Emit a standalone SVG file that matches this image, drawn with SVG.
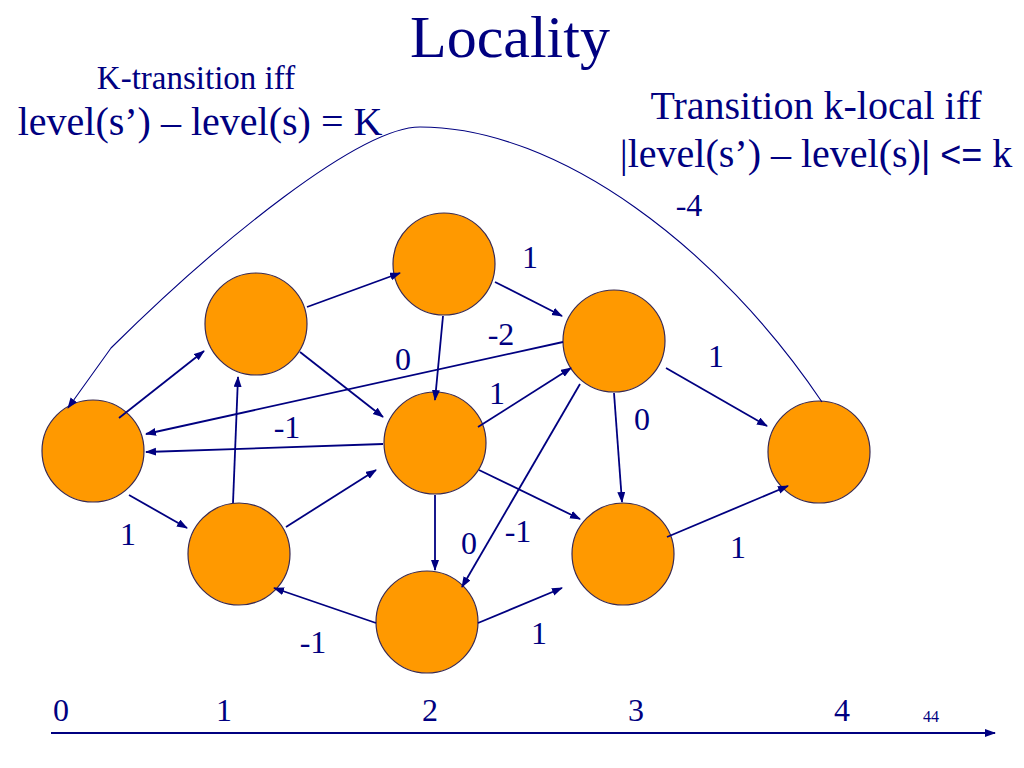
<svg xmlns="http://www.w3.org/2000/svg" width="1024" height="768" viewBox="0 0 1024 768">
<defs>
<marker id="ah" markerUnits="userSpaceOnUse" markerWidth="11" markerHeight="9" refX="10" refY="4" orient="auto">
<path d="M0,0 L11,4 L0,8 z" fill="#000080"/>
</marker>
</defs>
<rect width="1024" height="768" fill="#ffffff"/>
<g id="texts" fill="#000080">
<text x="510" y="57" font-size="60" font-family="Liberation Serif" text-anchor="middle">Locality</text>
<text x="196" y="89" font-size="33" font-family="Liberation Serif" text-anchor="middle">K-transition iff</text>
<text x="200" y="135" font-size="40" font-family="Liberation Serif" text-anchor="middle">level(s&#8217;) &#8211; level(s) = K</text>
<text x="816" y="119" font-size="40" font-family="Liberation Serif" text-anchor="middle">Transition k-local iff</text>
<text x="816" y="167" font-size="40" font-family="Liberation Serif" text-anchor="middle">|level(s&#8217;) &#8211; level(s)<tspan font-size="36" font-family="Liberation Sans">| &lt;=</tspan> k</text>
</g>
<g id="nodes" fill="#FF9900" stroke="#3a2a50" stroke-width="1.2">
<g id="node-A"><circle cx="93" cy="451" r="51"/></g>
<g id="node-B"><circle cx="256" cy="324" r="51"/></g>
<g id="node-C"><circle cx="444" cy="264" r="51"/></g>
<g id="node-D"><circle cx="614" cy="341" r="51"/></g>
<g id="node-E"><circle cx="435" cy="443" r="51"/></g>
<g id="node-F"><circle cx="239" cy="554" r="51"/></g>
<g id="node-G"><circle cx="427" cy="622" r="51"/></g>
<g id="node-H"><circle cx="623" cy="554" r="51"/></g>
<g id="node-I"><circle cx="819" cy="452" r="51"/></g>
</g>
<g id="connectors" stroke="#000080" stroke-width="1.8" fill="none" marker-end="url(#ah)">
<path stroke-width="1.1" d="M822,402 C720,250 560,127 420,127 C360,127 220,240 111,348 L68,408"/>
<line x1="119" y1="418" x2="204" y2="351"/>
<line x1="307" y1="307" x2="400" y2="273"/>
<line x1="443" y1="316" x2="435" y2="400"/>
<line x1="300" y1="352" x2="383" y2="417"/>
<line x1="563" y1="342" x2="146" y2="434"/>
<line x1="383" y1="444" x2="146" y2="452"/>
<line x1="233" y1="503" x2="238" y2="377"/>
<line x1="495" y1="282" x2="562" y2="316"/>
<line x1="478" y1="427" x2="571" y2="368"/>
<line x1="666" y1="368" x2="767" y2="426"/>
<line x1="614" y1="393" x2="622" y2="502"/>
<line x1="580" y1="384" x2="462" y2="587"/>
<line x1="479" y1="470" x2="580" y2="519"/>
<line x1="435" y1="495" x2="435" y2="570"/>
<line x1="129" y1="495" x2="187" y2="528"/>
<line x1="286" y1="527" x2="376" y2="470"/>
<line x1="376" y1="623" x2="274" y2="588"/>
<line x1="478" y1="623" x2="562" y2="588"/>
<line x1="667" y1="537" x2="788" y2="486"/>
<line x1="51" y1="733" x2="995" y2="733"/>
</g>
<g id="labels" fill="#000080">
<text x="689" y="216" font-size="32" font-family="Liberation Serif" text-anchor="middle">-4</text>
<text x="530" y="268" font-size="32" font-family="Liberation Serif" text-anchor="middle">1</text>
<text x="501" y="345" font-size="32" font-family="Liberation Serif" text-anchor="middle">-2</text>
<text x="403" y="370" font-size="32" font-family="Liberation Serif" text-anchor="middle">0</text>
<text x="716" y="367" font-size="32" font-family="Liberation Serif" text-anchor="middle">1</text>
<text x="497" y="404" font-size="32" font-family="Liberation Serif" text-anchor="middle">1</text>
<text x="287" y="438" font-size="32" font-family="Liberation Serif" text-anchor="middle">-1</text>
<text x="642" y="430" font-size="32" font-family="Liberation Serif" text-anchor="middle">0</text>
<text x="128" y="545" font-size="32" font-family="Liberation Serif" text-anchor="middle">1</text>
<text x="469" y="554" font-size="32" font-family="Liberation Serif" text-anchor="middle">0</text>
<text x="518" y="542" font-size="32" font-family="Liberation Serif" text-anchor="middle">-1</text>
<text x="738" y="558" font-size="32" font-family="Liberation Serif" text-anchor="middle">1</text>
<text x="539" y="644" font-size="32" font-family="Liberation Serif" text-anchor="middle">1</text>
<text x="313" y="653" font-size="32" font-family="Liberation Serif" text-anchor="middle">-1</text>
<text x="61" y="721" font-size="32" font-family="Liberation Serif" text-anchor="middle">0</text>
<text x="224" y="721" font-size="32" font-family="Liberation Serif" text-anchor="middle">1</text>
<text x="430" y="721" font-size="32" font-family="Liberation Serif" text-anchor="middle">2</text>
<text x="636" y="721" font-size="32" font-family="Liberation Serif" text-anchor="middle">3</text>
<text x="842" y="721" font-size="32" font-family="Liberation Serif" text-anchor="middle">4</text>
<text x="931" y="722" font-size="16" font-family="Liberation Serif" text-anchor="middle">44</text>
</g>
</svg>
